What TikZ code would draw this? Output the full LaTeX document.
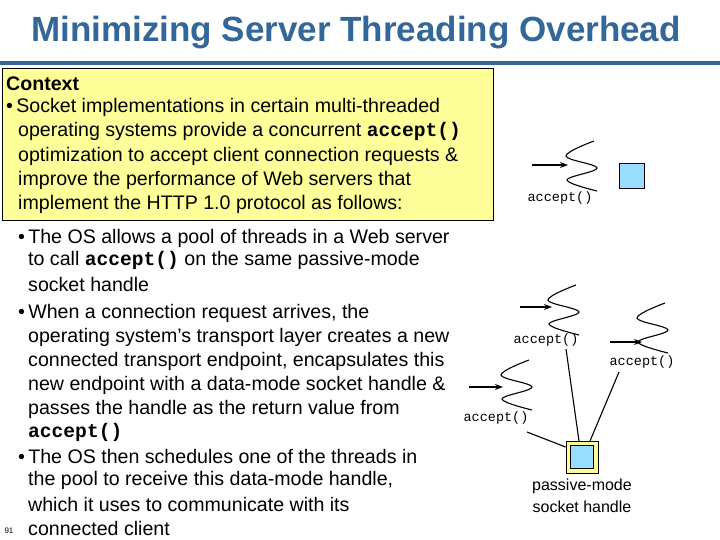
\documentclass[tikz,border=0pt]{standalone}
\usepackage{fontspec}
\setmainfont{Liberation Sans}
\setmonofont{Liberation Mono}
\usetikzlibrary{arrows.meta}
\definecolor{ttl}{HTML}{336699}
\definecolor{ybox}{HTML}{FFFF99}
\definecolor{sq}{HTML}{99DDFF}
\tikzset{
  body/.style={anchor=west,font=\fontsize{19.6}{22}\selectfont,inner sep=0},
  lbl/.style={font=\ttfamily\fontsize{13.5}{15}\selectfont,inner sep=0},
  arr/.style={-{Stealth[length=8pt,width=6pt]},line width=1.4pt},
  conn/.style={line width=1.1pt},
  pics/thread/.style={code={
    \draw[line width=1.1pt] plot[smooth,tension=0.6] coordinates{(28,0) (0,15) (31,27) (1,39) (31,50)};
  }}
}
\begin{document}
\begin{tikzpicture}[x=1pt,y=-1pt]
\useasboundingbox (0,0) rectangle (720,540);
\node[anchor=center,font=\bfseries\fontsize{35}{38}\selectfont,text=ttl,inner sep=0] (title) at (356,33) {Minimizing Server Threading Overhead};
\fill[ttl] (0,61) rectangle (720,65);
\node[draw,fill=ybox,line width=0.8pt,minimum width=491pt,minimum height=152pt,anchor=north west,inner sep=0] (ctx) at (2,68) {};
\node[body,font=\bfseries\fontsize{19.6}{22}\selectfont] (c0) at (6,84) {Context};
\node[body] (c1) at (6,107) {•\,Socket implementations in certain multi-threaded};
\node[body] (c2) at (18,131) {operating systems provide a concurrent \textbf{\ttfamily accept()}};
\node[body] (c3) at (18,156) {optimization to accept client connection requests \&};
\node[body] (c4) at (18,180) {improve the performance of Web servers that};
\node[body] (c5) at (18,204) {implement the HTTP 1.0 protocol as follows:};
\node[body] (b1) at (18,238) {•\,The OS allows a pool of threads in a Web server};
\node[body] (b2) at (28,260) {to call \textbf{\ttfamily accept()} on the same passive-mode};
\node[body] (b3) at (28,284) {socket handle};
\node[body] (b4) at (18,313) {•\,When a connection request arrives, the};
\node[body] (b5) at (28,337) {operating system’s transport layer creates a new};
\node[body] (b6) at (28,361) {connected transport endpoint, encapsulates this};
\node[body] (b7) at (28,385) {new endpoint with a data-mode socket handle \&};
\node[body] (b8) at (28,409) {passes the handle as the return value from};
\node[body] (b9) at (28,432) {\textbf{\ttfamily accept()}};
\node[body] (b10) at (18,456) {•\,The OS then schedules one of the threads in};
\node[body] (b11) at (28,480) {the pool to receive this data-mode handle,};
\node[body] (b12) at (28,504) {which it uses to communicate with its};
\node[body] (b13) at (28,528) {connected client};
\node[font=\fontsize{8}{9}\selectfont,inner sep=0] (pg) at (9,531) {91};
% top thread
\pic at (566,141) {thread};
\coordinate (a1s) at (532,165); \coordinate (a1e) at (568,165);
\draw[arr] (a1s) -- (a1e);
\node[lbl] (l1) at (560,198) {accept()};
\node[draw,fill=sq,line width=0.8pt,minimum size=25pt,inner sep=0] (s1) at (632,176) {};
% middle thread
\pic at (548,285) {thread};
\coordinate (a2s) at (520,307); \coordinate (a2e) at (552,307);
\draw[arr] (a2s) -- (a2e);
\node[lbl] (l2) at (546,340) {accept()};
% right thread
\pic at (637,303) {thread};
\coordinate (a3s) at (610,342); \coordinate (a3e) at (642,342);
\draw[arr,line width=1.1pt] (a3s) -- (a3e);
\node[lbl] (l3) at (642,362) {accept()};
% left thread
\pic at (501,360) {thread};
\coordinate (a4s) at (469,387); \coordinate (a4e) at (503,387);
\draw[arr] (a4s) -- (a4e);
\node[lbl] (l4) at (496,418) {accept()};
% handle
\node[draw,fill=ybox,line width=0.8pt,minimum size=32pt,inner sep=0] (h) at (582,457) {};
\node[draw,fill=sq,line width=0.8pt,minimum size=23pt,inner sep=0] (hi) at (582,457) {};
\node[font=\fontsize{16}{18}\selectfont,inner sep=0] (h1) at (582,486) {passive-mode};
\node[font=\fontsize{16}{18}\selectfont,inner sep=0] (h2) at (582,507) {socket handle};
\draw[conn] (527,432) -- (h.west |- 0,447);
\draw[conn] (566,349) -- (579,441);
\draw[conn] (619,372) -- (590,441);
\end{tikzpicture}
\end{document}
